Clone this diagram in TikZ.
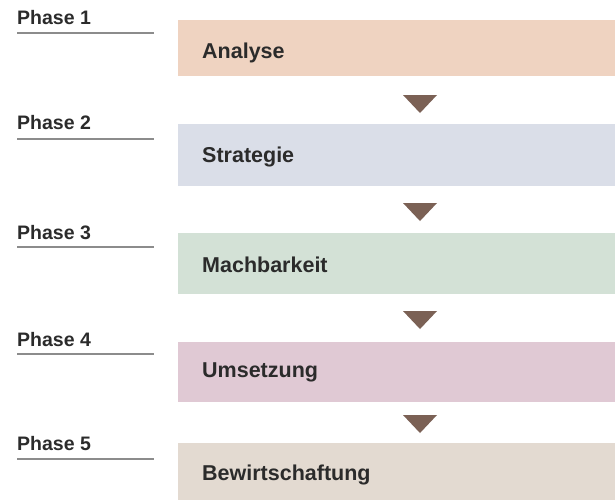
\documentclass[tikz,border=0pt]{standalone}
\usepackage{fontspec}
\setmainfont{Liberation Sans}
\definecolor{txt}{HTML}{2B2B2B}
\definecolor{rule}{HTML}{8C8C8C}
\definecolor{tri}{HTML}{7B6155}
\definecolor{c1}{HTML}{EFD3C1}
\definecolor{c2}{HTML}{DADEE8}
\definecolor{c3}{HTML}{D3E1D6}
\definecolor{c4}{HTML}{E0C9D4}
\definecolor{c5}{HTML}{E3DAD1}
\begin{document}
\begin{tikzpicture}[x=1pt,y=-1pt,
  phaselbl/.style={anchor=base west,inner sep=0pt,text=txt,font=\bfseries\fontsize{19.5}{20}\selectfont},
  boxlbl/.style={anchor=base west,inner sep=0pt,text=txt,font=\bfseries\fontsize{21.5}{22}\selectfont},
  phaserule/.style={draw=rule,line width=1.5pt},
  tribox/.style={fill=tri},
  stagebox/.style={draw=none,anchor=north west,inner sep=0pt,minimum width=437pt}]
\useasboundingbox[fill=white] (0,0) rectangle (615,499);
% boxes
\node[stagebox,fill=c1,minimum height=56pt] (b1) at (178,20) {};
\node[stagebox,fill=c2,minimum height=62pt] (b2) at (178,124) {};
\node[stagebox,fill=c3,minimum height=61pt] (b3) at (178,233) {};
\node[stagebox,fill=c4,minimum height=60pt] (b4) at (178,342) {};
\node[stagebox,fill=c5,minimum height=60pt] (b5) at (178,443) {};
% box labels
\node[boxlbl] (t1) at (202,58) {Analyse};
\node[boxlbl] (t2) at (202,162) {Strategie};
\node[boxlbl] (t3) at (202,272) {Machbarkeit};
\node[boxlbl] (t4) at (202,377) {Umsetzung};
\node[boxlbl] (t5) at (202,480) {Bewirtschaftung};
% phase labels
\node[phaselbl] (p1) at (17,24) {Phase 1};
\node[phaselbl] (p2) at (17,129) {Phase 2};
\node[phaselbl] (p3) at (17,239) {Phase 3};
\node[phaselbl] (p4) at (17,346) {Phase 4};
\node[phaselbl] (p5) at (17,450) {Phase 5};
% rules
\coordinate (r1a) at (17,33);  \coordinate (r1b) at (154,33);
\coordinate (r2a) at (17,139); \coordinate (r2b) at (154,139);
\coordinate (r3a) at (17,247); \coordinate (r3b) at (154,247);
\coordinate (r4a) at (17,354); \coordinate (r4b) at (154,354);
\coordinate (r5a) at (17,459); \coordinate (r5b) at (154,459);
\draw[phaserule] (r1a) -- (r1b);
\draw[phaserule] (r2a) -- (r2b);
\draw[phaserule] (r3a) -- (r3b);
\draw[phaserule] (r4a) -- (r4b);
\draw[phaserule] (r5a) -- (r5b);
% triangles
\fill[tribox] (403,95) -- (437,95) -- (420,113) -- cycle;
\fill[tribox] (403,203) -- (437,203) -- (420,221) -- cycle;
\fill[tribox] (403,311) -- (437,311) -- (420,329) -- cycle;
\fill[tribox] (403,415) -- (437,415) -- (420,433) -- cycle;
\end{tikzpicture}
\end{document}
